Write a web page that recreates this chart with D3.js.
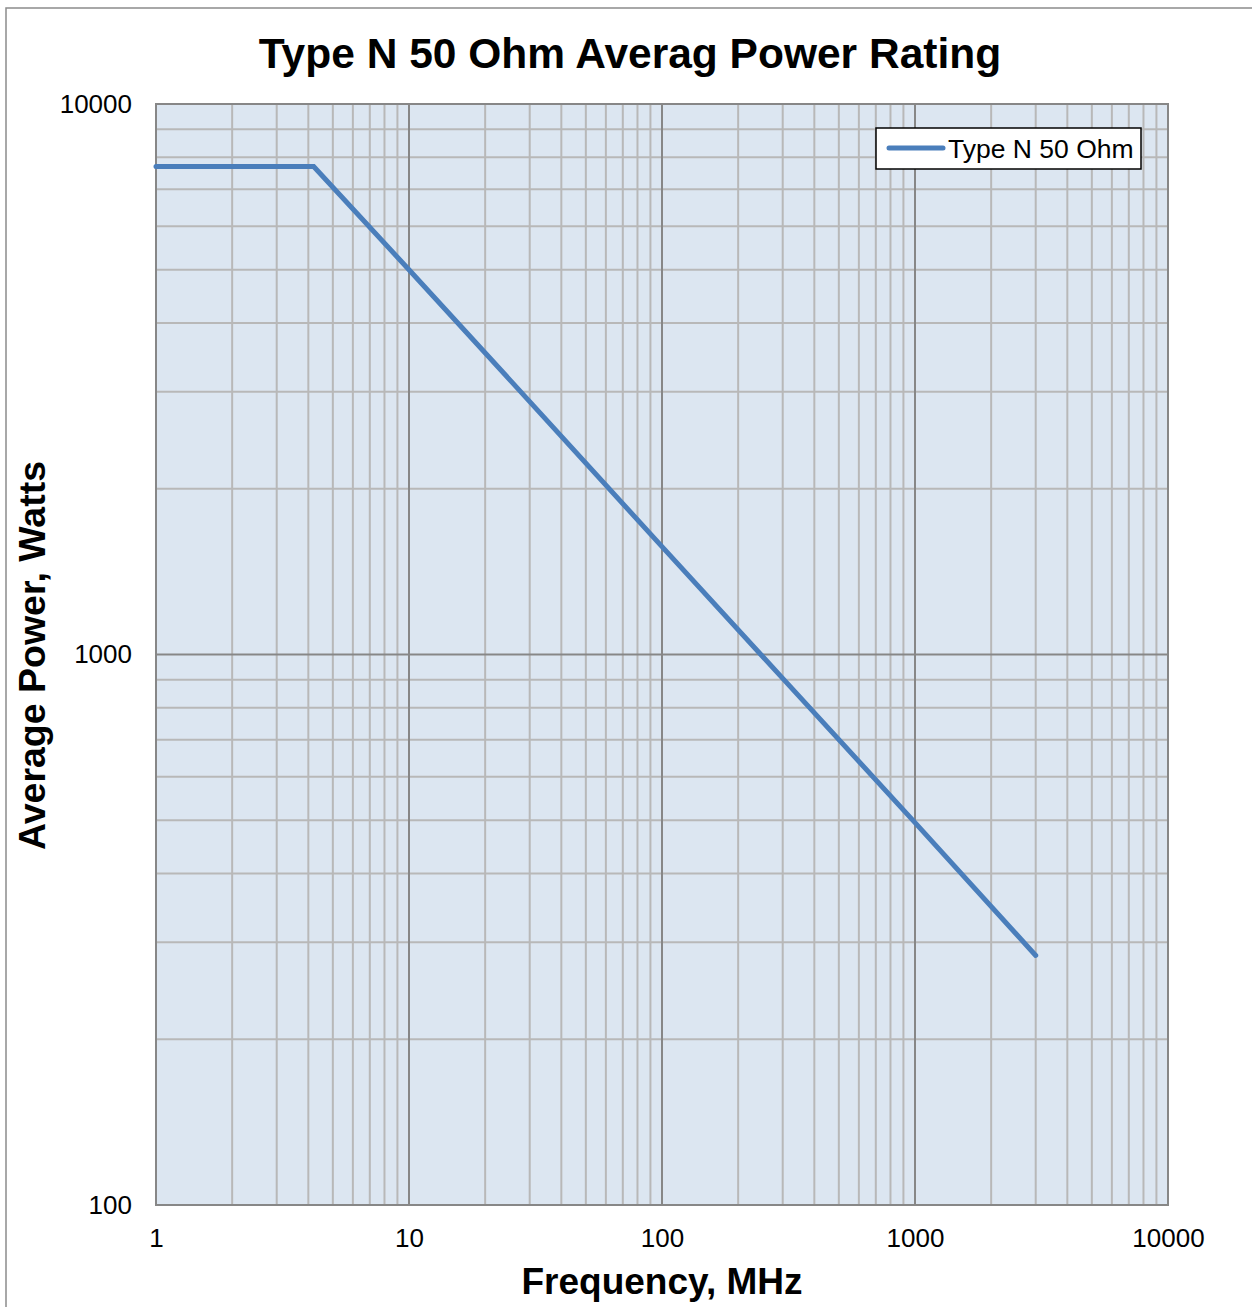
<!DOCTYPE html>
<html>
<head>
<meta charset="utf-8">
<script src="https://cdn.jsdelivr.net/npm/d3@7"></script>
<style>
  body { margin: 0; background: #fff; }
  svg { font-family: "Liberation Sans", Arial, sans-serif; }
</style>
</head>
<body>
<svg id="chart" width="1252" height="1307"></svg>
<script>
// data
var seriesName = "Type N 50 Ohm";
var freqMHz = [1, 4.2, 10, 30, 100, 300, 1000, 3000];
var powerW = [7700, 7700, 5000, 2880, 1570, 905, 495, 284];
var xTickLabels = [1, 10, 100, 1000, 10000];
var yTickLabels = [100, 1000, 10000];

var svg = d3.select("#chart");
var margin = { left: 156, top: 104, right: 84, bottom: 102 };
var width = 1252 - margin.left - margin.right;
var height = 1307 - margin.top - margin.bottom;

// chart border
svg.append("rect")
  .attr("x", 6).attr("y", 8)
  .attr("width", 1250).attr("height", 1302)
  .attr("fill", "none")
  .attr("stroke", "#8c8c8c")
  .attr("stroke-width", 1.5);

var g = svg.append("g")
  .attr("transform", "translate(" + margin.left + "," + margin.top + ")");

var x = d3.scaleLog().domain([1, 10000]).range([0, width]);
var y = d3.scaleLog().domain([100, 10000]).range([height, 0]);

g.append("rect")
  .attr("width", width).attr("height", height)
  .attr("fill", "#dce6f1");

// minor grid
var minorX = x.ticks().filter(function (d) { return xTickLabels.indexOf(d) < 0; });
var minorY = y.ticks().filter(function (d) { return yTickLabels.indexOf(d) < 0; });

g.selectAll(".minorX").data(minorX).enter().append("line")
  .attr("x1", function (d) { return x(d); })
  .attr("x2", function (d) { return x(d); })
  .attr("y1", 0).attr("y2", height)
  .attr("stroke", "#b8b8b8").attr("stroke-width", 2);

g.selectAll(".minorY").data(minorY).enter().append("line")
  .attr("y1", function (d) { return y(d); })
  .attr("y2", function (d) { return y(d); })
  .attr("x1", 0).attr("x2", width)
  .attr("stroke", "#b8b8b8").attr("stroke-width", 2);

// major grid
g.selectAll(".majorX").data(xTickLabels).enter().append("line")
  .attr("x1", function (d) { return x(d); })
  .attr("x2", function (d) { return x(d); })
  .attr("y1", 0).attr("y2", height)
  .attr("stroke", "#878787").attr("stroke-width", 2);

g.selectAll(".majorY").data(yTickLabels).enter().append("line")
  .attr("y1", function (d) { return y(d); })
  .attr("y2", function (d) { return y(d); })
  .attr("x1", 0).attr("x2", width)
  .attr("stroke", "#878787").attr("stroke-width", 2);

g.append("rect")
  .attr("width", width).attr("height", height)
  .attr("fill", "none")
  .attr("stroke", "#878787").attr("stroke-width", 2);

// axes
var xAxis = g.append("g")
  .attr("transform", "translate(0," + height + ")")
  .call(d3.axisBottom(x).tickValues(xTickLabels).tickFormat(d3.format("d")).tickSize(0).tickPadding(24));
var yAxis = g.append("g")
  .call(d3.axisLeft(y).tickValues(yTickLabels).tickFormat(d3.format("d")).tickSize(0).tickPadding(24));
[xAxis, yAxis].forEach(function (a) {
  a.select(".domain").remove();
  a.selectAll("text")
    .attr("font-family", "Liberation Sans, Arial, sans-serif")
    .attr("font-size", 26)
    .attr("fill", "#000");
});

// series line
var line = d3.line()
  .x(function (d, i) { return x(freqMHz[i]); })
  .y(function (d) { return y(d); });

g.append("path")
  .datum(powerW)
  .attr("d", line)
  .attr("fill", "none")
  .attr("stroke", "#4a7ebb")
  .attr("stroke-width", 5)
  .attr("stroke-linecap", "round");

// title
svg.append("text")
  .attr("x", 630).attr("y", 68)
  .attr("text-anchor", "middle")
  .attr("font-size", 42.5).attr("font-weight", "bold")
  .text("Type N 50 Ohm Averag Power Rating");

svg.append("text")
  .attr("x", margin.left + width / 2).attr("y", 1294)
  .attr("text-anchor", "middle")
  .attr("font-size", 37).attr("font-weight", "bold")
  .text("Frequency, MHz");

svg.append("text")
  .attr("transform", "translate(45," + (margin.top + height / 2 + 1) + ") rotate(-90)")
  .attr("text-anchor", "middle")
  .attr("font-size", 37.5).attr("font-weight", "bold")
  .text("Average Power, Watts");

// legend
var legend = svg.append("g").attr("transform", "translate(876,128)");
legend.append("rect")
  .attr("width", 265).attr("height", 41)
  .attr("fill", "#fff").attr("stroke", "#000").attr("stroke-width", 1.5);
legend.append("line")
  .attr("x1", 13).attr("x2", 67).attr("y1", 20).attr("y2", 20)
  .attr("stroke", "#4a7ebb").attr("stroke-width", 5).attr("stroke-linecap", "round");
legend.append("text")
  .attr("x", 72).attr("y", 30)
  .attr("font-size", 26.5)
  .text(seriesName);
</script>
</body>
</html>
